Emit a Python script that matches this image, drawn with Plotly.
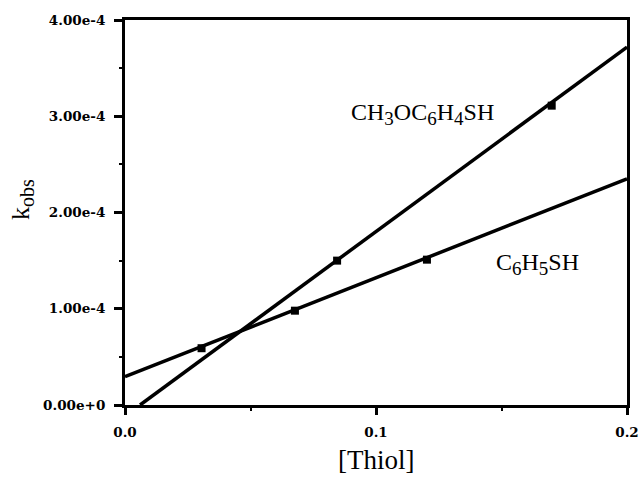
import plotly.graph_objects as go

# Data
ch3o_x = [0.0845, 0.170]
ch3o_y = [1.50e-4, 3.11e-4]
c6h5_x = [0.0305, 0.0677, 0.1203]
c6h5_y = [0.59e-4, 0.98e-4, 1.51e-4]

# fitted lines (slope, intercept)
ch3o_fit = (1.917e-3, -1.15e-5)
c6h5_fit = (1.028e-3, 0.294e-4)

x_range = [0.0, 0.2]
y_range = [0.0, 4.0e-4]
y_ticks = [0.0, 1e-4, 2e-4, 3e-4, 4e-4]
y_ticktext = ["0.00e+0", "1.00e-4", "2.00e-4", "3.00e-4", "4.00e-4"]
x_ticks = [0.0, 0.1, 0.2]
x_ticktext = ["0.0", "0.1", "0.2"]

def fit_line(fit):
    m, b = fit
    x0 = max(x_range[0], -b / m) if b < 0 else x_range[0]
    x1 = x_range[1]
    return [x0, x1], [m * x0 + b, m * x1 + b]

fig = go.Figure()
for fit in (ch3o_fit, c6h5_fit):
    lx, ly = fit_line(fit)
    fig.add_trace(go.Scatter(x=lx, y=ly, mode="lines",
                             line=dict(color="black", width=3.5),
                             showlegend=False, hoverinfo="skip"))
fig.add_trace(go.Scatter(x=ch3o_x, y=ch3o_y, mode="markers",
                         marker=dict(symbol="square", size=8, color="black"),
                         showlegend=False))
fig.add_trace(go.Scatter(x=c6h5_x, y=c6h5_y, mode="markers",
                         marker=dict(symbol="square", size=8, color="black"),
                         showlegend=False))

serif = "Liberation Serif, Times New Roman, serif"
tfont = dict(family="DejaVu Serif", size=13.5, color="black", weight="bold")

fig.update_layout(
    width=641, height=492,
    margin=dict(l=125, r=14, t=20, b=87),
    paper_bgcolor="white", plot_bgcolor="white",
    font=dict(family=serif, color="black"),
    xaxis=dict(range=x_range, tickvals=x_ticks, ticktext=x_ticktext, automargin=False,
               showgrid=False, zeroline=False, showline=True, linecolor="black",
               linewidth=3, mirror=True, ticks="outside", ticklen=7, tickwidth=2.5,
               tickcolor="black", tickfont=tfont, ticklabelstandoff=6,
               minor=dict(tickvals=[0.05, 0.15], ticks="outside", ticklen=3, tickwidth=2, tickcolor="black")),
    yaxis=dict(range=y_range, tickvals=y_ticks, ticktext=y_ticktext, automargin=False,
               showgrid=False, zeroline=True, zerolinecolor="black", zerolinewidth=5,
               showline=True, linecolor="black",
               linewidth=3, mirror=True, ticks="outside", ticklen=8, tickwidth=2.5,
               tickcolor="black", tickfont=tfont, ticklabelstandoff=6,
               minor=dict(tickvals=[0.5e-4, 1.5e-4, 2.5e-4, 3.5e-4], ticks="outside", ticklen=3,
                          tickwidth=2, tickcolor="black")),
)

pw, ph = 641 - 125 - 14, 492 - 20 - 87

def ann(text, xpx, ypx, size, angle=0):
    fig.add_annotation(text=text, x=(xpx - 125) / pw, y=(492 - ypx - 87) / ph,
                       xref="paper", yref="paper", xanchor="center", yanchor="middle",
                       showarrow=False, textangle=angle,
                       font=dict(family=serif, size=size, color="black"))

def sub(s, size):
    return "<sub><span style='font-size:%dpx'>%s</span></sub>" % (size, s)

ann("CH" + sub("3", 19) + "OC" + sub("6", 19) + "H" + sub("4", 19) + "SH", 422, 114, 24)
ann("C" + sub("6", 19) + "H" + sub("5", 19) + "SH", 537, 264, 24)
ann("[Thiol]", 376, 460, 27)
ann("k" + sub("obs", 20), 22, 200, 26, -90)

fig.write_html("out.html")
